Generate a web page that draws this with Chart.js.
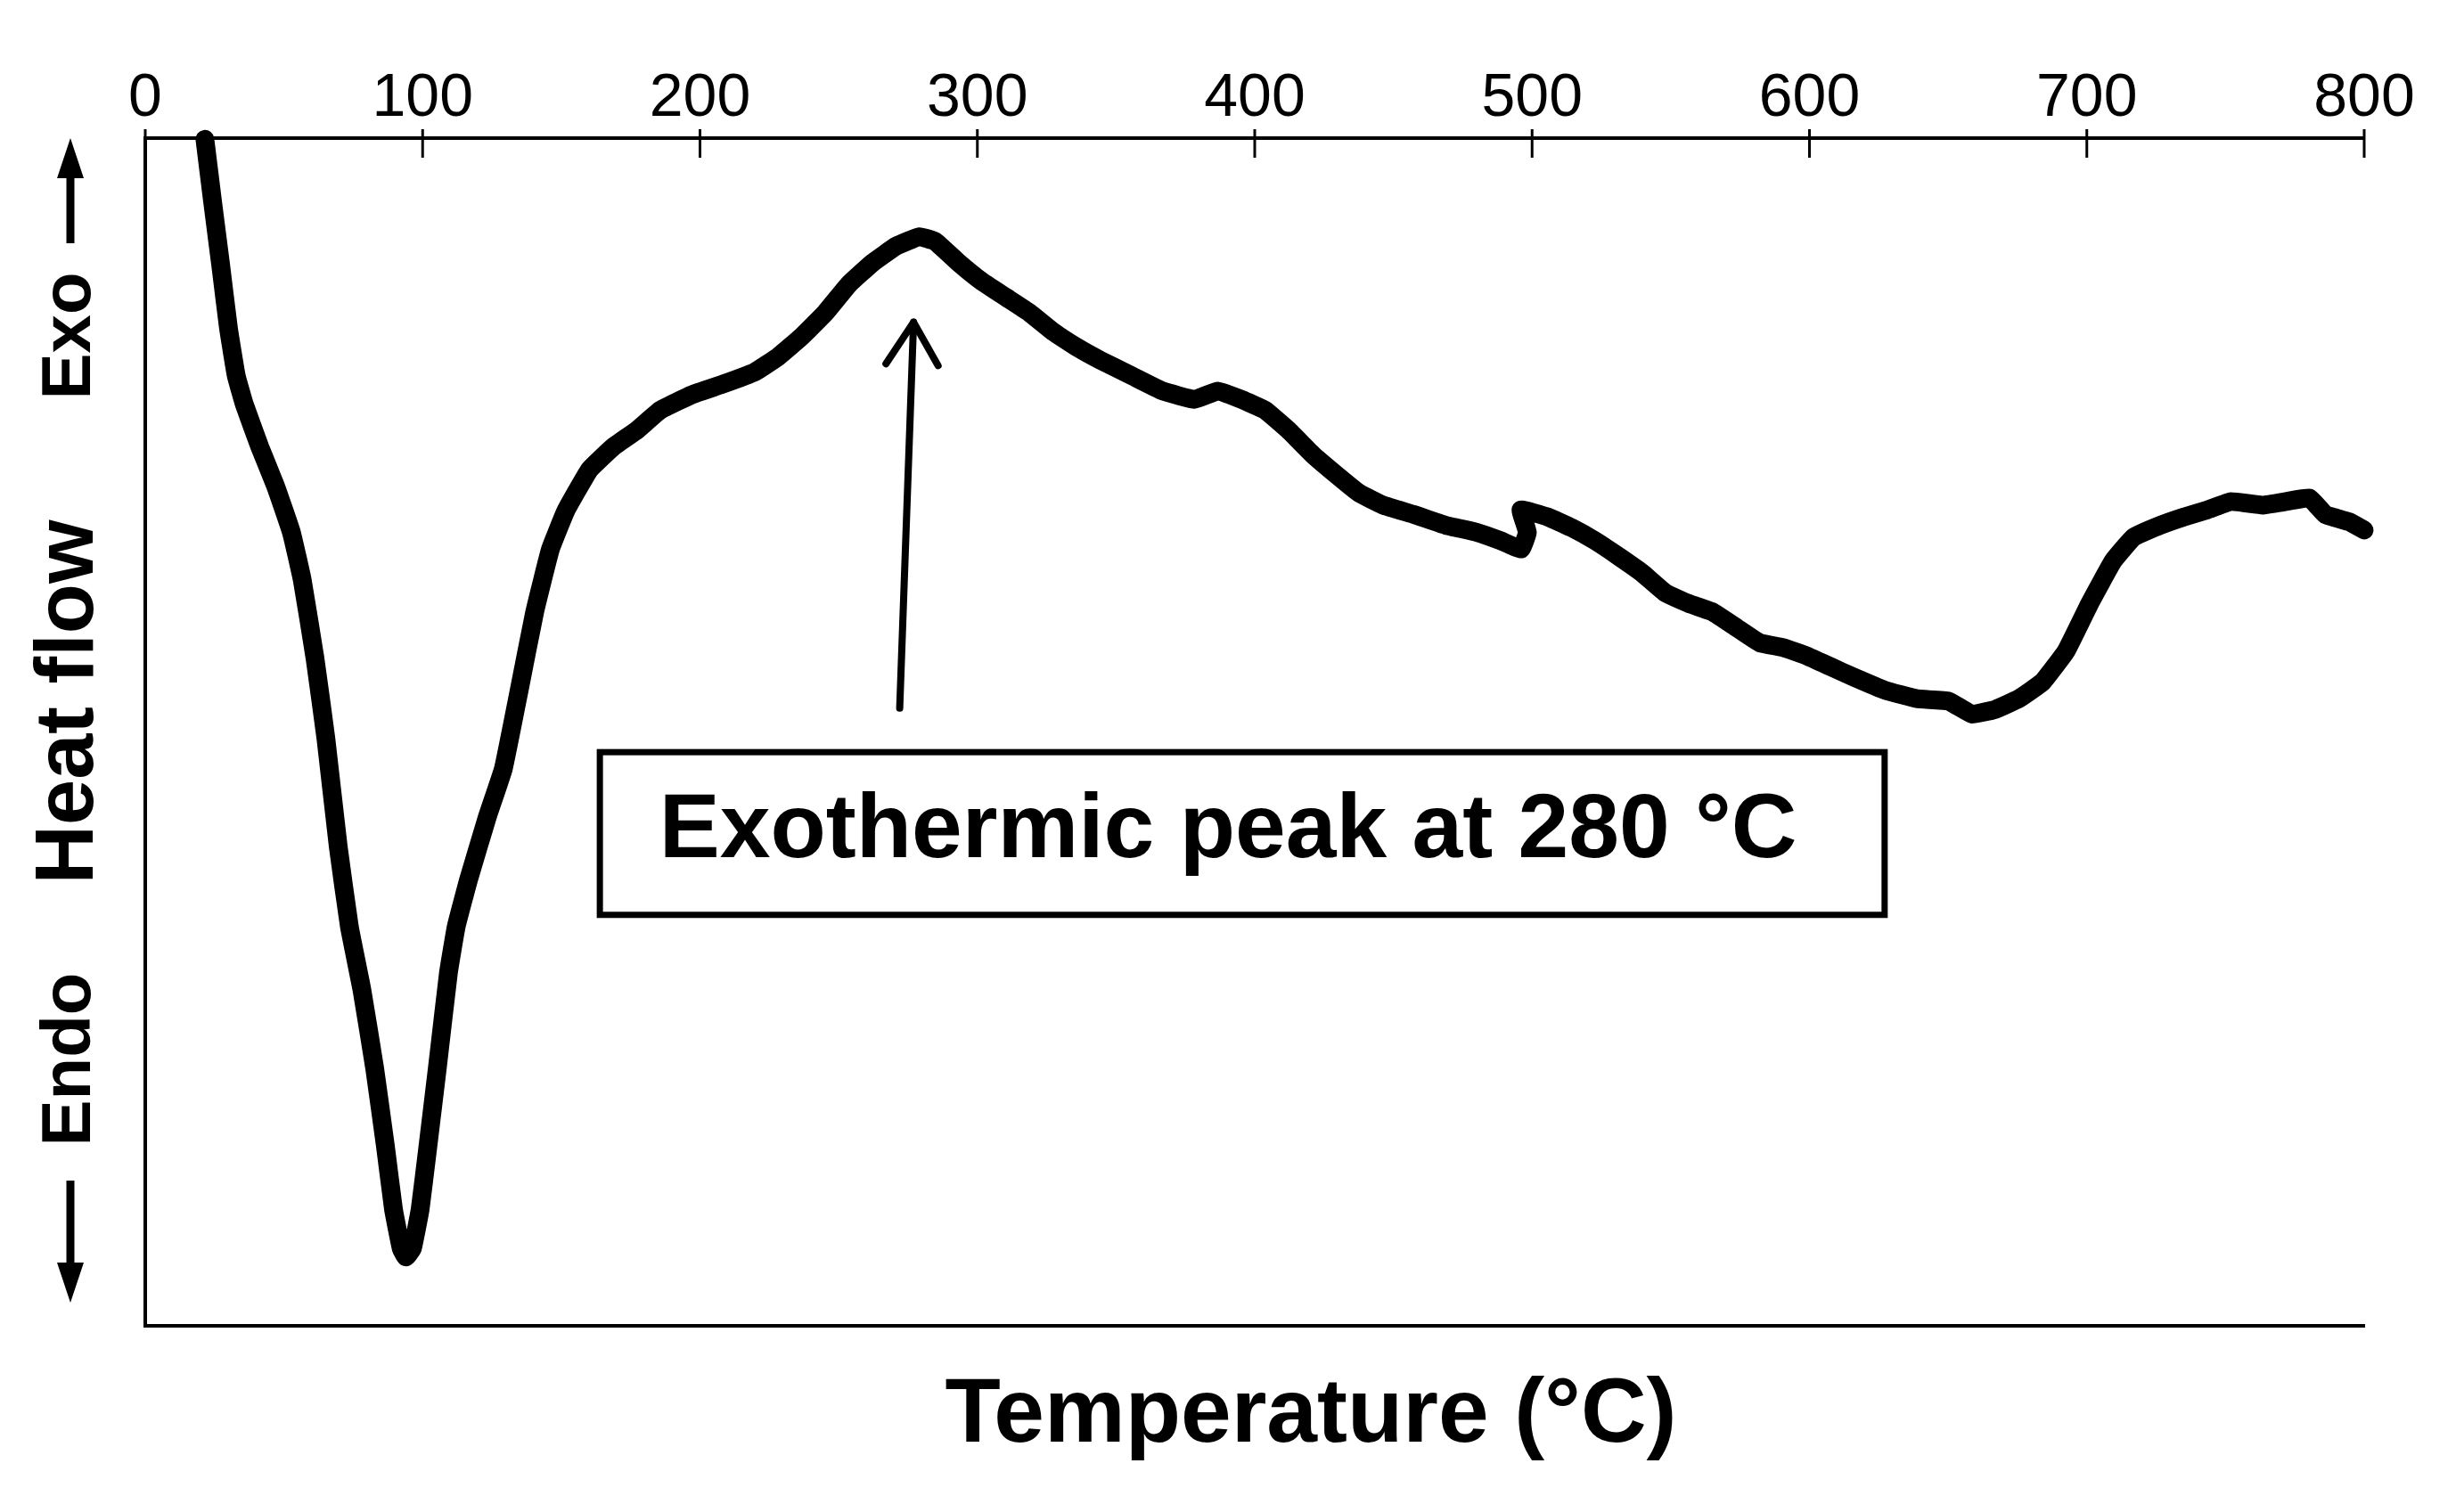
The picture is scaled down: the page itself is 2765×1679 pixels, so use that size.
<!DOCTYPE html>
<html>
<head>
<meta charset="utf-8">
<script src="https://cdn.jsdelivr.net/npm/chart.js@4.4.1/dist/chart.umd.min.js"></script>
<style>
  html, body { margin: 0; padding: 0; background: #fff; }
  #wrap { width: 2765px; height: 1679px; }
</style>
</head>
<body>
<div id="wrap"><canvas id="dscChart" width="2765" height="1679"></canvas></div>
<script>
// DSC trace (y is heat flow in arbitrary units, 0 = bottom, 100 = top)
const temperature = [21.5, 24.3, 27.2, 30.0, 32.8, 35.7, 41.3, 47.0, 52.7, 56.6, 61.2, 65.1, 69.6, 73.6, 78.1,
  82.7, 86.6, 89.5, 92.3, 94.0, 96.3, 99.1, 101.9, 105.3, 109.3, 112.1, 116.6, 123.4, 129.1, 134.8,
  140.4, 146.1, 151.8, 160.2, 168.7, 177.2, 185.7, 197.1, 208.4, 219.7, 228.2, 236.7, 245.2, 253.7,
  262.2, 270.7, 279.2, 284.8, 293.3, 301.8, 310.3, 318.8, 327.3, 335.8, 344.3, 355.6, 366.9, 378.3,
  386.7, 395.2, 403.7, 412.2, 420.7, 429.2, 437.7, 446.2, 457.5, 468.9, 480.2, 488.7, 496.0, 498.3,
  496.0, 505.7, 514.2, 522.7, 531.1, 539.6, 548.1, 556.6, 565.1, 573.6, 582.1, 590.6, 599.1, 607.6,
  616.1, 627.4, 638.7, 650.1, 658.6, 667.0, 675.5, 684.0, 692.5, 701.0, 709.5, 716.9, 726.5, 735.0,
  743.5, 752.0, 763.3, 771.8, 780.3, 786.0, 794.5, 800.0];
const heatFlow = [99.9, 94.6, 89.3, 84.0, 80.0, 77.6, 74.0, 70.7, 66.8, 62.8, 56.2, 49.5, 40.3, 33.6, 28.3,
  21.7, 15.1, 9.8, 6.5, 5.8, 6.5, 9.8, 15.1, 21.7, 29.7, 33.6, 37.6, 42.9, 46.9, 53.5,
  60.1, 65.4, 68.7, 72.1, 74.0, 75.4, 77.1, 78.4, 79.3, 80.3, 81.6, 83.3, 85.3, 87.7,
  89.5, 90.9, 91.7, 91.3, 89.5, 87.9, 86.6, 85.3, 83.7, 82.4, 81.3, 80.0, 78.7, 78.0,
  78.7, 78.0, 77.1, 75.4, 73.4, 71.7, 70.1, 69.1, 68.3, 67.4, 66.8, 66.1, 65.4, 66.8,
  68.7, 68.1, 67.2, 66.1, 64.8, 63.4, 61.7, 60.8, 60.1, 58.8, 57.5, 57.1, 56.4, 55.5,
  54.6, 53.5, 52.8, 52.6, 51.5, 51.9, 52.8, 54.2, 56.8, 60.8, 64.4, 66.4, 67.4, 68.1,
  68.7, 69.4, 69.1, 69.4, 69.7, 68.3, 67.7, 67.0];
const tempTicks = [0, 100, 200, 300, 400, 500, 600, 700, 800];

const peakLabel = 'Exothermic peak at 280 °C';
// annotation anchors in data units
const arrowFrom = { x: 272, y: 52 };
const arrowTo = { x: 277, y: 84.5 };
const labelBox = { x1: 163.9, x2: 627.1, y1: 48.3, y2: 34.6 };
const labelPos = { x: 390.4, y: 41.6 };

const points = temperature.map((t, i) => ({ x: t, y: heatFlow[i] }));

const textPlugin = {
  id: 'dscText',
  afterDraw(chart) {
    const ctx = chart.ctx;
    const xs = chart.scales.x;
    const ys = chart.scales.y;
    const top = chart.chartArea.top;
    ctx.save();
    ctx.fillStyle = '#000';
    ctx.strokeStyle = '#000';

    // tick marks across the top axis
    ctx.lineWidth = 3;
    tempTicks.forEach(v => {
      const px = xs.getPixelForValue(v);
      ctx.beginPath();
      ctx.moveTo(px, top - 10);
      ctx.lineTo(px, top + 22);
      ctx.stroke();
    });

    // axis titles
    ctx.textAlign = 'center';
    ctx.textBaseline = 'middle';
    ctx.font = 'bold 102px "Liberation Sans", Arial, sans-serif';
    ctx.fillText('Temperature (°C)', 1471, 1590);

    ctx.save();
    ctx.translate(79, 788);
    ctx.rotate(-Math.PI / 2);
    ctx.font = 'bold 92px "Liberation Sans", Arial, sans-serif';
    ctx.fillText('Heat flow', 0, 0);
    ctx.restore();

    ctx.save();
    ctx.translate(79, 377);
    ctx.rotate(-Math.PI / 2);
    ctx.font = 'bold 78px "Liberation Sans", Arial, sans-serif';
    ctx.fillText('Exo', 0, 0);
    ctx.restore();

    ctx.save();
    ctx.translate(79, 1189);
    ctx.rotate(-Math.PI / 2);
    ctx.font = 'bold 78px "Liberation Sans", Arial, sans-serif';
    ctx.fillText('Endo', 0, 0);
    ctx.restore();

    // exo / endo arrows
    ctx.lineWidth = 9;
    ctx.beginPath(); ctx.moveTo(79, 273); ctx.lineTo(79, 190); ctx.stroke();
    ctx.beginPath(); ctx.moveTo(79, 155); ctx.lineTo(64, 200); ctx.lineTo(94, 200); ctx.closePath(); ctx.fill();
    ctx.beginPath(); ctx.moveTo(79, 1325); ctx.lineTo(79, 1425); ctx.stroke();
    ctx.beginPath(); ctx.moveTo(79, 1462); ctx.lineTo(64, 1417); ctx.lineTo(94, 1417); ctx.closePath(); ctx.fill();

    // annotation arrow
    const ax0 = xs.getPixelForValue(arrowFrom.x), ay0 = ys.getPixelForValue(arrowFrom.y);
    const ax1 = xs.getPixelForValue(arrowTo.x), ay1 = ys.getPixelForValue(arrowTo.y);
    ctx.lineWidth = 8;
    ctx.lineCap = 'round';
    ctx.lineJoin = 'round';
    ctx.beginPath(); ctx.moveTo(ax0, ay0); ctx.lineTo(ax1, ay1); ctx.stroke();
    const ang = Math.atan2(ay1 - ay0, ax1 - ax0);
    const hl = 56, spread = 0.55;
    ctx.beginPath();
    ctx.moveTo(ax1 - hl * Math.cos(ang - spread), ay1 - hl * Math.sin(ang - spread));
    ctx.lineTo(ax1, ay1);
    ctx.lineTo(ax1 - hl * Math.cos(ang + spread), ay1 - hl * Math.sin(ang + spread));
    ctx.stroke();

    // annotation box
    const bx1 = xs.getPixelForValue(labelBox.x1), bx2 = xs.getPixelForValue(labelBox.x2);
    const by1 = ys.getPixelForValue(labelBox.y1), by2 = ys.getPixelForValue(labelBox.y2);
    ctx.lineWidth = 7;
    ctx.lineCap = 'butt';
    ctx.lineJoin = 'miter';
    ctx.fillStyle = '#fff';
    ctx.fillRect(bx1, by1, bx2 - bx1, by2 - by1);
    ctx.strokeRect(bx1, by1, bx2 - bx1, by2 - by1);
    ctx.fillStyle = '#000';
    ctx.font = 'bold 102px "Liberation Sans", Arial, sans-serif';
    ctx.fillText(peakLabel, xs.getPixelForValue(labelPos.x), ys.getPixelForValue(labelPos.y));
    ctx.restore();
  }
};

new Chart(document.getElementById('dscChart').getContext('2d'), {
  type: 'line',
  data: {
    datasets: [{
      data: points,
      borderColor: '#000',
      borderWidth: 21,
      borderJoinStyle: 'round',
      borderCapStyle: 'round',
      pointRadius: 0,
      tension: 0.1,
      clip: false,
      fill: false
    }]
  },
  options: {
    responsive: false,
    animation: false,
    devicePixelRatio: 1,
    layout: { padding: { left: 0, right: 112, top: 0, bottom: 0 } },
    plugins: { legend: { display: false }, tooltip: { enabled: false } },
    scales: {
      x: {
        type: 'linear',
        position: 'top',
        min: 0,
        max: 800,
        afterFit: s => { s.height = 155; },
        afterBuildTicks: s => { s.ticks = tempTicks.map(v => ({ value: v })); },
        ticks: {
          color: '#000',
          padding: 3,
          font: { family: '"Liberation Sans", Arial, sans-serif', size: 68 }
        },
        grid: { display: false, drawTicks: false },
        border: { display: true, color: '#000', width: 4 }
      },
      x2: {
        type: 'linear',
        position: 'bottom',
        min: 0,
        max: 800,
        afterFit: s => { s.height = 191; },
        ticks: { display: false },
        grid: { display: false, drawTicks: false },
        border: { display: true, color: '#000', width: 4 }
      },
      y: {
        min: 0,
        max: 100,
        afterFit: s => { s.width = 163; },
        ticks: { display: false },
        grid: { display: false, drawTicks: false },
        border: { display: true, color: '#000', width: 4 }
      }
    }
  },
  plugins: [textPlugin]
});
</script>
</body>
</html>
